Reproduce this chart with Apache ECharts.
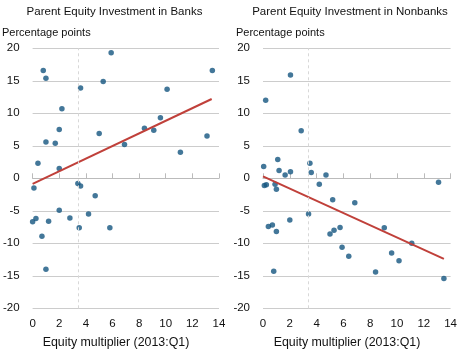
<!DOCTYPE html>
<html><head><meta charset="utf-8">
<script src="https://cdn.jsdelivr.net/npm/echarts@6/dist/echarts.min.js"></script>
<style>html,body{margin:0;padding:0;background:#fff}#c{width:460px;height:356px}</style>
</head><body><div id="c"></div>
<script>
// Banks panel: equity multiplier (x), change (y)
const banksX = [0.4,0.8,1.0,1.0,1.7,2.0,2.2,2.0,3.6,5.3,5.9,5.0,6.9,8.4,9.1,9.6,10.1,11.1,13.1,13.5,
                0.1,0.0,0.25,0.7,1.0,1.2,2.0,2.8,3.4,3.6,3.5,4.2,4.7,5.8];
const banksY = [2.3,16.6,15.4,5.6,5.4,7.5,10.7,1.5,13.9,14.9,19.3,6.9,5.2,7.7,7.4,9.3,13.7,4.0,6.5,16.6,
                -1.5,-6.7,-6.2,-8.9,-14.0,-6.6,-4.9,-6.1,-0.8,-1.2,-7.6,-5.5,-2.7,-7.6];
const banksFitX = [0, 13.45];
const banksFitY = [-0.85, 12.2];

// Nonbanks panel
const nonbanksX = [0.05,0.2,1.1,1.2,1.65,2.05,2.05,2.85,3.5,3.6,4.7,13.1,
                   0.1,0.25,0.9,1.0,0.4,0.7,1.0,0.8,2.0,3.4,4.2,5.2,6.85,5.0,5.3,5.75,5.9,6.4,8.4,9.05,9.6,10.15,11.1,13.5];
const nonbanksY = [1.8,12.0,2.9,1.2,0.5,15.9,1.0,7.3,2.3,0.9,0.5,-0.6,
                   -1.1,-1.0,-0.9,-1.7,-7.4,-7.2,-8.2,-14.3,-6.4,-5.5,-0.9,-3.3,-3.75,-8.55,-8.0,-7.55,-10.6,-12.0,-14.4,-7.6,-11.5,-12.7,-10.0,-15.4];
const nonbanksFitX = [0, 13.5];
const nonbanksFitY = [0.3, -12.4];

const meanMultiplier = [3.4, 3.4];
const xTicks = [0, 2, 4, 6, 8, 10, 12, 14];
const yTicks = [-20, -15, -10, -5, 0, 5, 10, 15, 20];

const titles = ['Parent Equity Investment in Banks', 'Parent Equity Investment in Nonbanks'];
const yUnit = 'Percentage points';
const xName = 'Equity multiplier (2013:Q1)';

const FONT = 'Liberation Sans, Arial, sans-serif';
const TXT = '#111111';
const DOT = '#14557f';
const FIT = '#c0403a';

const zip = (a, b) => a.map((v, i) => [v, b[i]]);

const grids = [
  {left: 29, right: 241, top: 48.3, bottom: 47.7},
  {left: 263, right: 8, top: 48.3, bottom: 47.7}
];

function xAxis(i) {
  return {
    gridIndex: i, type: 'value', min: xTicks[0], max: xTicks[xTicks.length - 1], interval: 2,
    axisLine: {show: true, lineStyle: {color: '#bbbbbb', width: 1}},
    axisTick: {show: true, inside: true, length: 5, lineStyle: {color: '#bbbbbb'}},
    axisLabel: {fontFamily: FONT, fontSize: 11.5, color: TXT, margin: 10},
    splitLine: {show: false}
  };
}
function yAxis(i) {
  return {
    gridIndex: i, type: 'value', min: yTicks[0], max: yTicks[yTicks.length - 1], interval: 5,
    axisLine: {show: false}, axisTick: {show: false},
    axisLabel: {fontFamily: FONT, fontSize: 11.5, color: TXT, margin: 13},
    splitLine: {show: true, lineStyle: {color: '#cccccc', width: 1}}
  };
}
function scatter(i, xs, ys) {
  return {
    type: 'scatter', xAxisIndex: i, yAxisIndex: i, data: zip(xs, ys),
    symbolSize: 5.5, itemStyle: {color: DOT}, z: 3,
    markLine: {
      silent: true, symbol: 'none', label: {show: false},
      lineStyle: {color: '#d8d8d8', type: [3, 3], width: 1},
      data: [{xAxis: meanMultiplier[i]}]
    }
  };
}
function fit(i, xs, ys) {
  return {
    type: 'line', xAxisIndex: i, yAxisIndex: i, data: zip(xs, ys),
    showSymbol: false, symbol: 'none', lineStyle: {color: FIT, width: 2}, z: 4
  };
}
function txt(text, left, top, size, align) {
  return {text: text, left: left, top: top, textAlign: align, padding: 0,
          textStyle: {fontFamily: FONT, fontSize: size, fontWeight: 'normal', color: TXT}};
}

const chart = echarts.init(document.getElementById('c'), null, {renderer: 'canvas'});
chart.setOption({
  animation: false,
  backgroundColor: '#ffffff',
  title: [
    txt(titles[0], 114.5, 6, 11.5, 'center'),
    txt(titles[1], 350, 6, 11.5, 'center'),
    txt(yUnit, 2, 27, 11, 'left'),
    txt(yUnit, 236, 27, 11, 'left'),
    txt(xName, 116, 336.5, 12.4, 'center'),
    txt(xName, 347, 336.5, 12.4, 'center')
  ],
  grid: grids,
  xAxis: [xAxis(0), xAxis(1)],
  yAxis: [yAxis(0), yAxis(1)],
  series: [
    scatter(0, banksX, banksY), fit(0, banksFitX, banksFitY),
    scatter(1, nonbanksX, nonbanksY), fit(1, nonbanksFitX, nonbanksFitY)
  ]
});
</script></body></html>
